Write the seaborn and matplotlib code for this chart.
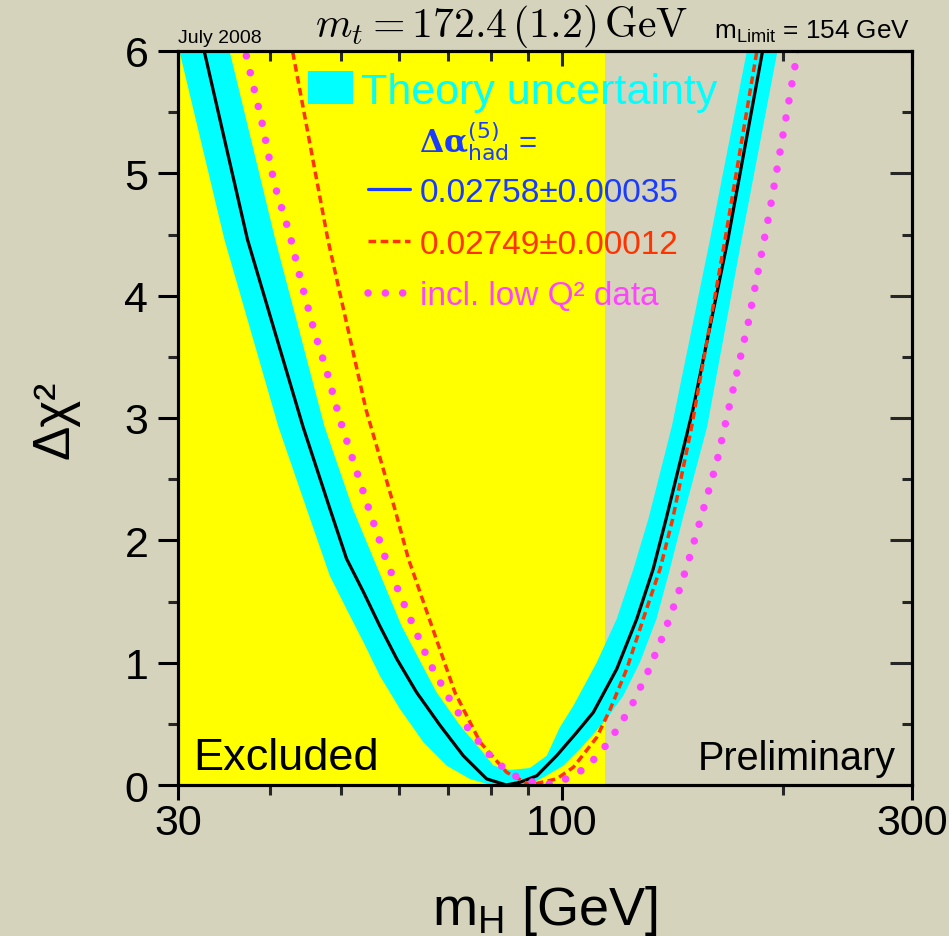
import numpy as np
import pandas as pd
import matplotlib
matplotlib.use("Agg")
import matplotlib.pyplot as plt
import seaborn as sns
from matplotlib.lines import Line2D
from matplotlib.patches import Patch
from matplotlib.ticker import FixedLocator, NullFormatter

# ---------------- data ----------------
lep_limit = 114.4  # excluded region upper edge [GeV]

# central fit, Delta alpha_had = 0.02758 +- 0.00035 (black)
black_m = [32.6, 37.3, 44.4, 48.3, 50.9, 53.7, 56.5, 59.6, 63.4, 68.3, 73.4, 79.0,
           84.0, 87.7, 92.5, 98.4, 104.8, 110.4, 118.8, 126.5, 133.2, 138.7,
           150.9, 168.4, 187.6]
black_chi2 = [5.99, 4.46, 2.93, 2.26, 1.85, 1.575, 1.30, 1.03, 0.758, 0.485, 0.24, 0.05,
              0.0, 0.022, 0.076, 0.24, 0.43, 0.594, 0.948, 1.357, 1.766, 2.174,
              3.07, 4.46, 5.99]

# Delta alpha_had = 0.02749 +- 0.00012 (red dashed)
red_m = [43.0, 48.0, 54.1, 59.2, 61.8, 66.5, 71.5, 77.4, 84.1, 90.5, 98.4, 103.7,
         111.6, 116.4, 122.6, 129.1, 136.1, 141.6, 150.3, 166.9, 184.3]
red_chi2 = [5.99, 4.46, 3.07, 2.26, 1.85, 1.30, 0.758, 0.35, 0.104, 0.0, 0.05, 0.145,
            0.39, 0.62, 0.948, 1.357, 1.766, 2.174, 2.93, 4.46, 5.99]

# incl. low Q^2 data (magenta dotted)
mag_m = [36.8, 37.2, 39.0, 40.6, 42.6, 44.2, 46.1, 47.8, 49.9, 52.5, 54.5, 57.4, 60.0,
         63.0, 66.1, 70.1, 74.8, 80.8, 86.1, 92.9, 96.7, 100.8, 107.9, 113.9,
         119.2, 124.5, 131.2, 137.5, 143.4, 148.7, 153.9, 162.6, 168.6, 179.5,
         192.1, 204.7, 209.0, 210.5]
mag_chi2 = [6.1, 5.95, 5.43, 4.91, 4.50, 4.10, 3.69, 3.39, 2.98, 2.57, 2.27, 1.87, 1.575,
            1.28, 0.995, 0.717, 0.447, 0.204, 0.076, 0.008, 0.008, 0.043, 0.139, 0.294,
            0.463, 0.648, 0.934, 1.226, 1.526, 1.825, 2.134, 2.638, 3.06, 3.78,
            4.70, 5.65, 5.96, 6.1]

# theory uncertainty band: outer (lower) and inner (upper) envelopes
band_outer_m = [30.16, 34.7, 41.1, 44.9, 48.3, 50.9, 53.7, 56.5, 60.2, 64.8, 69.7, 75.0,
                79.0, 81.0, 90.0, 94.4, 100.5, 105.9, 115.1, 121.3, 127.8, 134.6,
                140.4, 146.1, 157.8, 175.8, 196.6]
band_outer_chi2 = [5.99, 4.46, 2.93, 2.26, 1.711, 1.439, 1.166, 0.894, 0.621, 0.349,
                   0.158, 0.049, 0.01, 0.0, 0.0, 0.063, 0.158, 0.294, 0.54, 0.73, 1.003,
                   1.357, 1.766, 2.174, 2.93, 4.46, 5.99]
band_inner_m = [35.3, 40.7, 47.5, 51.9, 55.4, 60.5, 67.5, 72.7, 77.4, 80.7, 85.0, 90.5,
                95.4, 99.4, 103.7, 111.6, 118.8, 125.2, 131.2, 141.2, 159.2, 178.6]
band_inner_chi2 = [5.99, 4.46, 2.93, 2.26, 1.85, 1.30, 0.758, 0.485, 0.294, 0.158, 0.123,
                   0.139, 0.24, 0.472, 0.648, 1.003, 1.357, 1.766, 2.174, 2.93, 4.46, 5.99]

x_major = [30, 100, 300]
x_major_labels = ["30", "100", "300"]
x_minor = [40, 50, 60, 70, 80, 90, 200]
y_major = [0, 1, 2, 3, 4, 5, 6]
y_minor = [0.5, 1.5, 2.5, 3.5, 4.5, 5.5]

legend_labels = ["0.02758\u00b10.00035", "0.02749\u00b10.00012", "incl. low Q\u00b2 data"]

# ---------------- style ----------------
sns.set_theme(style="ticks")
plt.rcParams["font.family"] = ["Liberation Sans", "DejaVu Sans"]
plt.rcParams["mathtext.fontset"] = "custom"
plt.rcParams["mathtext.rm"] = "Liberation Sans"
plt.rcParams["mathtext.it"] = "Liberation Sans:italic"
plt.rcParams["mathtext.bf"] = "Liberation Sans:bold"
plt.rcParams["mathtext.sf"] = "Liberation Sans"
plt.rcParams["axes.linewidth"] = 2.2

BG = "#d6d3bd"
YEL = "#ffff00"
CYAN = "#00ffff"
BLUE = "#1a3cff"
RED = "#ff3300"
MAG = "#ff44ff"

RED_LS = (0, (2.2, 1.3))
MAG_LS = (0, (0.01, 2.3))

fig = plt.figure(figsize=(9.49, 9.37), dpi=100, facecolor=BG)
ax = fig.add_axes([178 / 949, 1 - 786 / 937, 734 / 949, 734 / 937])
ax.set_facecolor(BG)
ax.set_xscale("log")
ax.set_xlim(30, 300)
ax.set_ylim(0, 6)

# excluded region
ax.axvspan(30, lep_limit, color=YEL, lw=0, zorder=0)

# theory band
band_x = band_outer_m + band_inner_m[::-1]
band_y = band_outer_chi2 + band_inner_chi2[::-1]
ax.fill(band_x, band_y, color=CYAN, lw=0, zorder=1)

# curves
sns.lineplot(x=black_m, y=black_chi2, ax=ax, color="black", lw=2.3, sort=False,
             estimator=None, legend=False, zorder=3)
sns.lineplot(x=red_m, y=red_chi2, ax=ax, color=RED, lw=2.5, sort=False,
             estimator=None, legend=False, zorder=4, linestyle=RED_LS)
sns.lineplot(x=mag_m, y=mag_chi2, ax=ax, color=MAG, lw=5.4, sort=False,
             estimator=None, legend=False, zorder=5, linestyle=MAG_LS,
             dash_capstyle="round")

# ticks
ax.xaxis.set_major_locator(FixedLocator(x_major))
ax.xaxis.set_minor_locator(FixedLocator(x_minor))
ax.set_xticklabels(x_major_labels)
ax.xaxis.set_minor_formatter(NullFormatter())
ax.yaxis.set_major_locator(FixedLocator(y_major))
ax.yaxis.set_minor_locator(FixedLocator(y_minor))
ax.tick_params(axis="x", which="major", direction="out", length=10.8, width=2.2,
               labelsize=31, pad=2, colors="black")
ax.tick_params(axis="x", which="minor", direction="out", length=7.2, width=2.2)
ax.tick_params(axis="y", which="major", direction="out", length=14.4, width=2.2,
               labelsize=31, pad=7, colors="black")
ax.tick_params(axis="y", which="minor", direction="out", length=7.2, width=2.2)
for s in ax.spines.values():
    s.set_visible(True)
    s.set_color("black")
    s.set_linewidth(2.2)
    s.set_zorder(10)

axt = ax.twiny()
axt.set_xscale("log")
axt.set_xlim(30, 300)
axt.xaxis.set_major_locator(FixedLocator(x_major))
axt.xaxis.set_minor_locator(FixedLocator(x_minor))
axt.xaxis.set_major_formatter(NullFormatter())
axt.xaxis.set_minor_formatter(NullFormatter())
axt.tick_params(axis="x", which="major", direction="in", length=10.8, width=2.2)
axt.tick_params(axis="x", which="minor", direction="in", length=7.2, width=2.2)

axr = ax.twinx()
axr.set_ylim(0, 6)
axr.yaxis.set_major_locator(FixedLocator(y_major))
axr.yaxis.set_minor_locator(FixedLocator(y_minor))
axr.yaxis.set_major_formatter(NullFormatter())
axr.tick_params(axis="y", which="major", direction="in", length=15.8, width=2.2)
axr.tick_params(axis="y", which="minor", direction="in", length=7.2, width=2.2)
for a in (axt, axr):
    for s in a.spines.values():
        s.set_linewidth(2.2)
        s.set_color("black")

# axis labels
ax.set_xlabel(r"m$_{\mathrm{H}}$ [GeV]", fontsize=39, color="black")
ax.xaxis.label.set_va("baseline")
ax.xaxis.set_label_coords(0.5, (786 - 925) / 734)
ax.set_ylabel("\u0394\u03c7\u00b2", fontsize=37, color="black")
ax.yaxis.label.set_va("center")
ax.yaxis.label.set_ha("center")
ax.yaxis.set_label_coords((55 - 178) / 734, (786 - 420) / 734)

# legends
h1 = [Patch(facecolor=CYAN, edgecolor="none")]
leg1 = ax.legend(h1, ["Theory uncertainty"], loc="upper left",
                 bbox_to_anchor=((308 - 178) / 734, (786 - 72) / 734),
                 frameon=False, fontsize=31, handlelength=1.04, handleheight=0.82,
                 handletextpad=0.2, borderpad=0, borderaxespad=0)
for t in leg1.get_texts():
    t.set_color(CYAN)
ax.add_artist(leg1)

h2 = [Line2D([], [], color=BLUE, lw=2.3),
      Line2D([], [], color=RED, lw=2.5, linestyle=RED_LS),
      Line2D([], [], color=MAG, lw=5.4, linestyle=MAG_LS, dash_capstyle="round")]
leg2 = ax.legend(h2, legend_labels, loc="upper left",
                 bbox_to_anchor=((368 - 178) / 734, (786 - 178) / 734),
                 frameon=False, fontsize=24, handlelength=1.26, handletextpad=0.30,
                 labelspacing=0.62, borderpad=0, borderaxespad=0)
for t, c in zip(leg2.get_texts(), [BLUE, RED, MAG]):
    t.set_color(c)

ax.text((419 - 178) / 734, (786 - 153) / 734,
        r"$\mathbf{\Delta\alpha}^{\mathsf{(5)}}_{\mathsf{had}}$ =",
        transform=ax.transAxes, fontsize=22.5, color=BLUE, va="baseline", ha="left",
        math_fontfamily="dejavuserif", zorder=20)

# annotations
ax.text(0.0, (786 - 43) / 734, "July 2008", transform=ax.transAxes, fontsize=14,
        va="baseline", ha="left", color="black")
ax.text((501 - 178) / 734, (786 - 37) / 734, r"$m_t = 172.4\,(1.2)\,\mathrm{GeV}$",
        transform=ax.transAxes, fontsize=30, va="baseline", ha="center",
        color="black", math_fontfamily="cm")
ax.text((910 - 178) / 734, (786 - 39) / 734, r"m$_{\mathrm{Limit}}$ = 154 GeV",
        transform=ax.transAxes, fontsize=18.8, va="baseline", ha="right", color="black")
ax.text((193 - 178) / 734, (786 - 770) / 734, "Excluded", transform=ax.transAxes,
        fontsize=32.5, va="baseline", ha="left", color="black", zorder=20)
ax.text((896 - 178) / 734, (786 - 770) / 734, "Preliminary", transform=ax.transAxes,
        fontsize=28.5, va="baseline", ha="right", color="black", zorder=20)

fig.savefig("out.png", dpi=100, facecolor=BG)
